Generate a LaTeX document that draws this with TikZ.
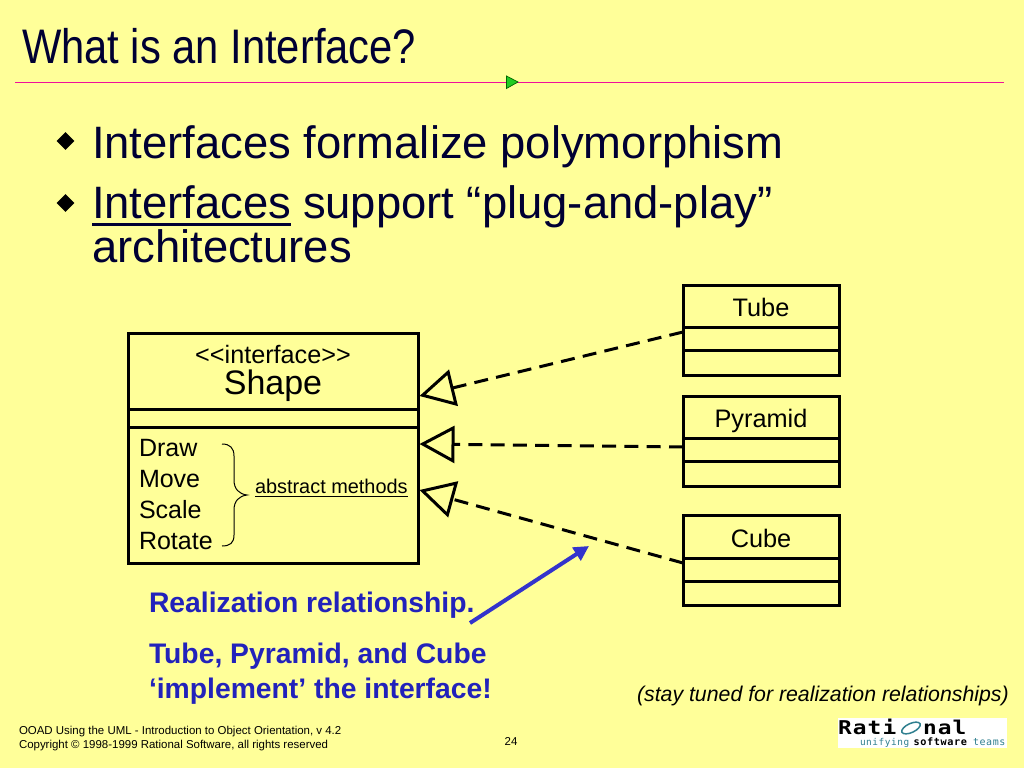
\documentclass[tikz,border=0pt]{standalone}
\usepackage{fontspec}
\setmainfont{Liberation Sans}
\newfontfamily\titlefont[FakeStretch=0.86]{Liberation Sans}
\newfontfamily\monofont[LetterSpace=6,FakeStretch=1.2]{DejaVu Sans Mono}
\newfontfamily\submonofont[LetterSpace=6]{DejaVu Sans Mono}
\usetikzlibrary{arrows.meta,shapes.geometric}
\definecolor{slidebg}{HTML}{FFFF99}
\definecolor{navy}{HTML}{000033}
\definecolor{rulepink}{HTML}{F0109A}
\definecolor{tipgreen}{HTML}{22CC22}
\definecolor{noteblue}{HTML}{2222BB}
\definecolor{arrowblue}{HTML}{3333CC}
\definecolor{logoteal}{HTML}{2F7F8F}
\newcommand{\fs}[2]{\fontsize{#1}{#2}\selectfont}
\tikzset{
  x=1pt,y=-1pt,
  txt/.style={inner sep=0pt,outer sep=0pt,anchor=base west},
  mid/.style={inner sep=0pt,outer sep=0pt,anchor=base},
  bullettext/.style={txt,text=navy,font=\fs{45.4}{50}},
  bulletmark/.style={diamond,fill=black,inner sep=0pt,minimum width=18pt,minimum height=18pt},
  box/.style={draw=black,line width=3pt,inner sep=0pt,outer sep=0pt,minimum width=156pt,minimum height=90pt,anchor=north west},
  divider/.style={draw=black,line width=3pt},
  note/.style={txt,text=noteblue,font=\fs{28.3}{32}\bfseries},
  real/.style={draw=black,line width=3pt,dash pattern=on 14pt off 8.3pt,
    -{Triangle[open,fill=none,length=35pt,width=37pt,line width=3pt,sep=0pt]}},
}
\begin{document}
\begin{tikzpicture}
\useasboundingbox (0,0) rectangle (1024,768);
\fill[slidebg] (0,0) rectangle (1024,768);

% title
\node[txt,text=navy,font=\titlefont\fs{48.5}{52}] (title) at (22,63.5) {What is an Interface?};
\coordinate (ruleL) at (15,82);
\coordinate (ruleR) at (1004,82);
\draw[rulepink,line width=1pt] (ruleL) -- (ruleR);
\draw[black!60!green,fill=tipgreen,line width=.7pt] (506.5,76) -- (518,82) -- (506.5,88.5) -- cycle;

% bullets
\node[bulletmark] (b1) at (65.5,141) {};
\node[bullettext] (l1) at (92,158) {Interfaces formalize polymorphism};
\node[bulletmark] (b2) at (65.5,203) {};
\node[bullettext] (l2a) at (92,218) {Interfaces};
\node[bullettext,anchor=base west] (l2b) at (303,218) {support “plug-and-play”};
\node[bullettext] (l3) at (92,262) {architectures};
\draw[navy,line width=3pt] ([yshift=-6pt]l2a.base west) -- ([yshift=-6pt]l2a.base east);

% shape class
\node[box,minimum width=290pt,minimum height=230pt] (shape) at (128,333) {};
\draw[divider] (128,409) -- (418,409);
\draw[divider] (128,427) -- (418,427);
\node[mid,font=\fs{25.2}{27}] (stereo) at (273,363) {<{}<interface>{}>};
\node[mid,font=\fs{34}{36}] (shapename) at (273,394) {Shape};
\node[txt,font=\fs{25}{27}] (m1) at (139,456) {Draw};
\node[txt,font=\fs{25}{27}] (m2) at (139,487) {Move};
\node[txt,font=\fs{25}{27}] (m3) at (139,518) {Scale};
\node[txt,font=\fs{25}{27}] (m4) at (139,549) {Rotate};
\draw[black,line width=1pt] (222,444) .. controls (230,444) and (234,448) .. (234,456)
  -- (234,480) .. controls (234,489) and (239,494) .. (247,495)
  .. controls (239,496) and (234,501) .. (234,510)
  -- (234,535) .. controls (234,543) and (230,546) .. (222,546);
\node[txt,font=\fs{19.9}{22}] (abs) at (255,493) {abstract methods};
\draw[black,line width=1pt] ([yshift=-3.5pt]abs.base west) -- ([yshift=-3.5pt]abs.base east);

% realizing classes
\node[box] (tube) at (683,285) {};
\draw[divider] (683,327) -- (839,327);
\draw[divider] (683,350) -- (839,350);
\node[mid,font=\fs{25.3}{27}] (tubename) at (761,316) {Tube};
\node[box] (pyramid) at (683,396) {};
\draw[divider] (683,438) -- (839,438);
\draw[divider] (683,461) -- (839,461);
\node[mid,font=\fs{25.3}{27}] (pyrname) at (761,427) {Pyramid};
\node[box] (cube) at (683,515) {};
\draw[divider] (683,558) -- (839,558);
\draw[divider] (683,581) -- (839,581);
\node[mid,font=\fs{25.3}{27}] (cubename) at (761,547) {Cube};

% realization connectors
\coordinate (tip1) at (419.5,396);
\coordinate (tip2) at (419.5,444);
\coordinate (tip3) at (419.5,490);
\coordinate (port1) at (683,332);
\coordinate (port2) at (683,447);
\coordinate (port3) at (683,563);
\draw[real] (port1) -- (tip1);
\draw[real] (port2) -- (tip2);
\draw[real] (port3) -- (tip3);

% notes
\node[note] (n1) at (149,612.5) {Realization relationship.};
\node[note] (n2) at (149,663.5) {Tube, Pyramid, and Cube};
\node[note] (n3) at (149,698.5) {‘implement’ the interface!};
\coordinate (arrowstart) at (470,623);
\coordinate (arrowend) at (589,546);
\draw[arrowblue,line width=4pt,-{Triangle[length=15pt,width=15pt]}] (arrowstart) -- (arrowend);
\node[txt,font=\fs{21.3}{24}\itshape] (tuned) at (637,701) {(stay tuned for realization relationships)};

% footer
\node[txt,font=\fs{11.46}{13}] (f1) at (19,734) {OOAD Using the UML - Introduction to Object Orientation, v 4.2};
\node[txt,font=\fs{11.46}{13}] (f2) at (19,748) {Copyright © 1998-1999 Rational Software, all rights reserved};
\node[mid,font=\fs{11.46}{13}] (pg) at (511,745) {24};

% logo
\fill[white] (838,718) rectangle (1007,748);
\node[txt,font=\monofont\fs{19}{20}\bfseries] (rati) at (838,734) {Rati};
\draw[logoteal,line width=1.5pt,rotate around={25:(911,728)}] (911,728) ellipse [x radius=10pt,y radius=4.5pt];
\node[txt,font=\monofont\fs{19}{20}\bfseries] (nal) at (923,734) {nal};
\node[txt,font=\submonofont\fs{9.4}{11},text=logoteal] (uni) at (860,745.5) {unifying};
\node[txt,font=\submonofont\fs{10.2}{11}\bfseries] (sw) at (913.5,745.5) {software};
\node[txt,font=\submonofont\fs{10}{11},text=logoteal] (teams) at (973,745.5) {teams};
\end{tikzpicture}
\end{document}
